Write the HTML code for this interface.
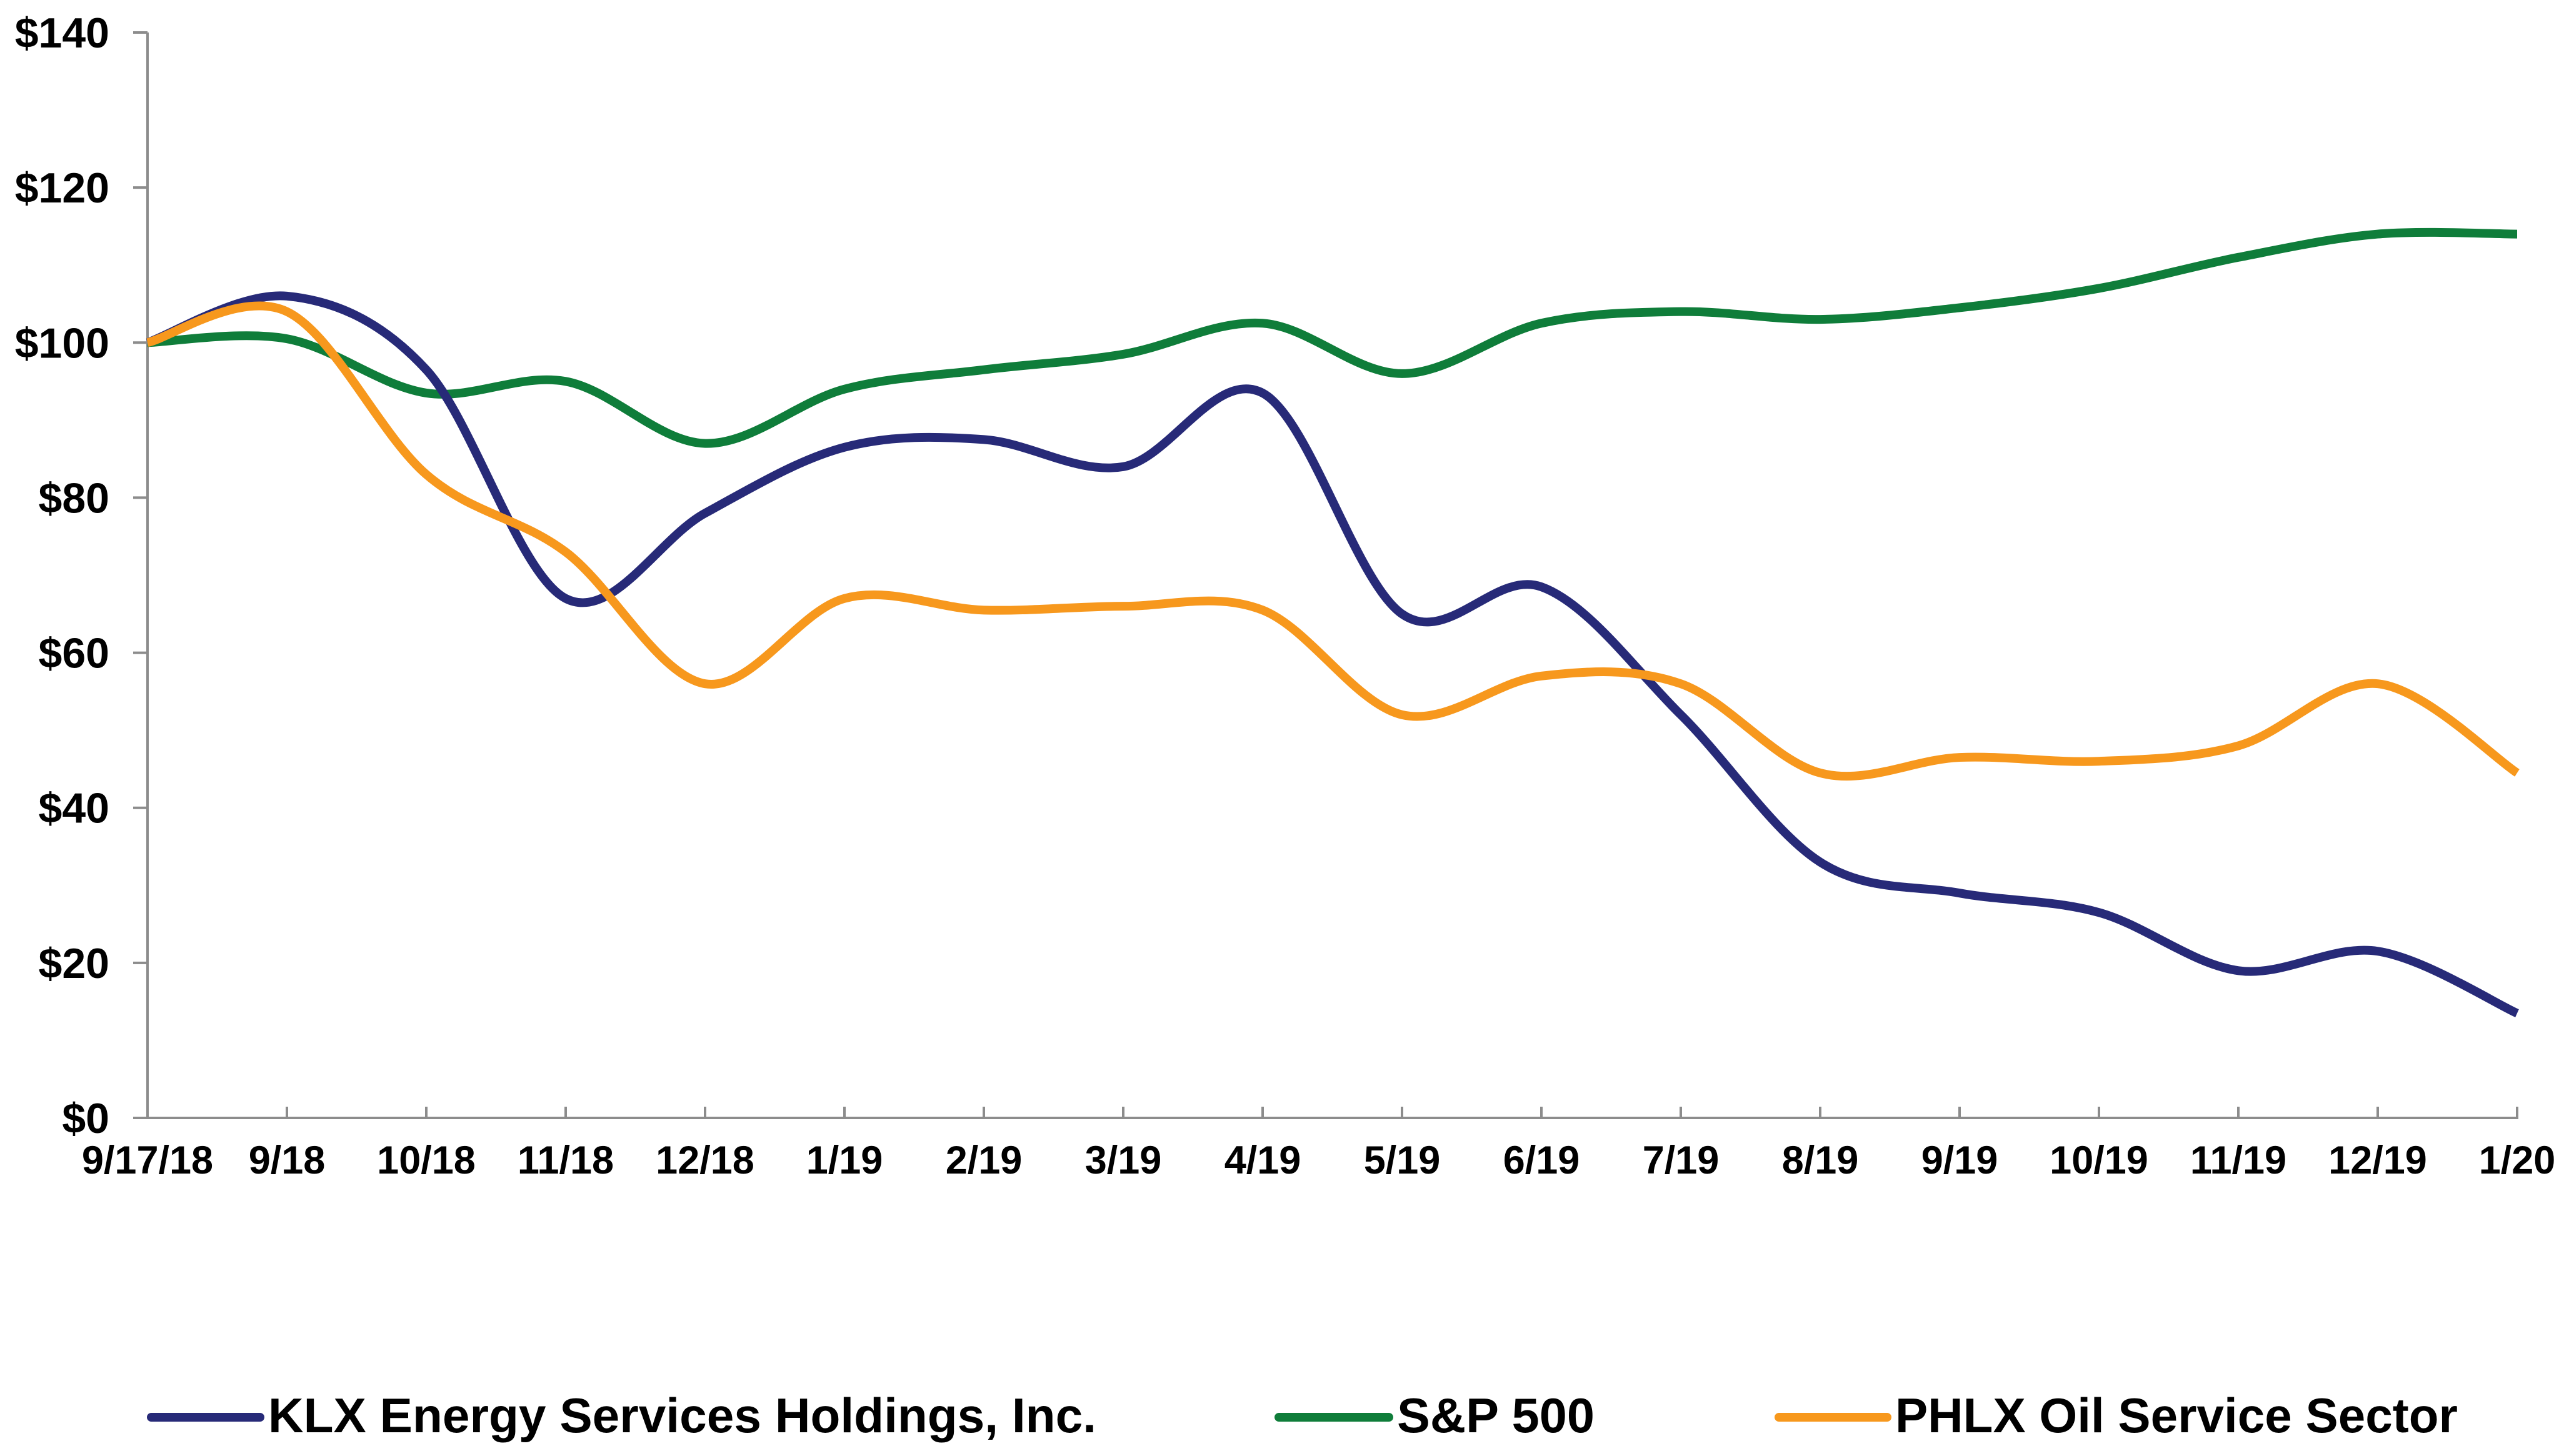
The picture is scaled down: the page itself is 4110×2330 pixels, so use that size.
<!DOCTYPE html>
<html><head><meta charset="utf-8"><style>
html,body{margin:0;padding:0;background:#fff;}
svg{display:block;font-family:"Liberation Sans",Arial,sans-serif;font-weight:bold;}
</style></head><body>
<svg id="chart" width="4110" height="2330" viewBox="0 0 4110 2330" xmlns="http://www.w3.org/2000/svg">
<g id="axes"></g>
<g id="series"></g>
<g id="legend"></g>
</svg>
<script>
const categories = ["9/17/18","9/18","10/18","11/18","12/18","1/19","2/19","3/19","4/19","5/19","6/19","7/19","8/19","9/19","10/19","11/19","12/19","1/20"];
const klxValues = [100,106,96.5,67,78,86.5,87.5,84,93.5,65,68.5,52,33,29,26.5,19,21.5,13.5];
const spValues = [100,100.5,93.5,95,87,94,96.5,98.5,102.5,96,102.5,104,103,104.5,107,111,114,114];
const phlxValues = [100,104,83,73,56,67,65.5,66,65.5,52,57,56,44.5,46.5,46,48,56,44.5];
const yTicks = [0,20,40,60,80,100,120,140];
const yTickLabels = ["$0","$20","$40","$60","$80","$100","$120","$140"];
const seriesNames = ["KLX Energy Services Holdings, Inc.","S&P 500","PHLX Oil Service Sector"];

const NS = "http://www.w3.org/2000/svg";
const X0 = 236, X1 = 4027, Y0 = 1789, YMAX = 140, PXPER = (1789-52)/140;
function xPos(i){ return X0 + i*(X1-X0)/(categories.length-1); }
function yPos(v){ return Y0 - v*PXPER; }
function mk(tag, attrs, parent){ const e=document.createElementNS(NS,tag); for(const k in attrs) e.setAttribute(k,attrs[k]); parent.appendChild(e); return e; }

const axes = document.getElementById('axes');
let el = mk('line',{x1:X0,y1:yPos(140),x2:X0,y2:Y0,stroke:'#8c8c8c','stroke-width':4},axes);


el = mk('line',{x1:213,y1:Y0,x2:X1+2,y2:Y0,stroke:'#8c8c8c','stroke-width':4},axes);


yTicks.forEach((v,i)=>{
  const t = mk('line',{x1:213,y1:yPos(v),x2:X0,y2:yPos(v),stroke:'#8c8c8c','stroke-width':4},axes);
  
  
  const l = mk('text',{x:175,y:yPos(v)+24,'text-anchor':'end','font-size':68,fill:'#000'},axes);
  l.textContent = yTickLabels[i];
  
  
});
categories.forEach((c,i)=>{
  if(i>0){
    const t = mk('line',{x1:xPos(i),y1:Y0-18,x2:xPos(i),y2:Y0,stroke:'#8c8c8c','stroke-width':4},axes);
    
    
  }
  const l = mk('text',{x:xPos(i),y:1878,'text-anchor':'middle','font-size':63,fill:'#000'},axes);
  l.textContent = c;
  
  
});

function smoothPath(vals){
  const p = vals.map((v,i)=>[xPos(i),yPos(v)]);
  let d = `M${p[0][0]},${p[0][1]}`;
  for(let i=0;i<p.length-1;i++){
    const p0=p[Math.max(0,i-1)], p1=p[i], p2=p[i+1], p3=p[Math.min(p.length-1,i+2)];
    const c1=[p1[0]+(p2[0]-p0[0])/6, p1[1]+(p2[1]-p0[1])/6];
    const c2=[p2[0]-(p3[0]-p1[0])/6, p2[1]-(p3[1]-p1[1])/6];
    d += ` C${c1[0]},${c1[1]} ${c2[0]},${c2[1]} ${p2[0]},${p2[1]}`;
  }
  return d;
}
const series = document.getElementById('series');
el = mk('path',{d:smoothPath(spValues),fill:'none',stroke:'#0f7d3a','stroke-width':14,'stroke-linejoin':'round'},series);


el = mk('path',{d:smoothPath(klxValues),fill:'none',stroke:'#272a78','stroke-width':14,'stroke-linejoin':'round'},series);


el = mk('path',{d:smoothPath(phlxValues),fill:'none',stroke:'#f7981d','stroke-width':14,'stroke-linejoin':'round'},series);



const legend = document.getElementById('legend');
const legColors = ['#272a78','#0f7d3a','#f7981d'];
const legLineX = [242,2046,2846], legLineX2=[416,2222,3019], legTextX=[429,2235,3032], legTextW=[1325,316,900];
seriesNames.forEach((n,i)=>{
  const g = mk('g',{},legend);
  
  
  const ln = mk('line',{x1:legLineX[i],y1:2268,x2:legLineX2[i],y2:2268,stroke:legColors[i],'stroke-width':14,'stroke-linecap':'round'},g);
  
  
  const t = mk('text',{x:legTextX[i],y:2292,'font-size':78,fill:'#000',textLength:legTextW[i],lengthAdjust:'spacingAndGlyphs'},g);
  t.textContent = n;
  
  
});
</script>
</body></html>
